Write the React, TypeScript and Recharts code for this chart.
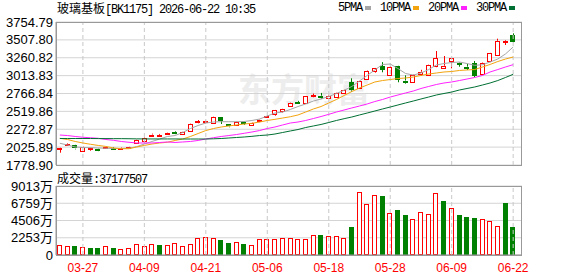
import {
  ComposedChart,
  BarChart,
  Bar,
  Line,
  XAxis,
  YAxis,
  CartesianGrid,
  ReferenceLine,
} from 'recharts';

const dates = ['03-24','03-25','03-26','03-27','03-30','03-31','04-01','04-02','04-03','04-07','04-08','04-09','04-10','04-13','04-14','04-15','04-16','04-17','04-20','04-21','04-22','04-23','04-24','04-27','04-28','04-29','04-30','05-06','05-07','05-08','05-11','05-12','05-13','05-14','05-15','05-18','05-19','05-20','05-21','05-22','05-25','05-26','05-27','05-28','05-29','06-01','06-02','06-03','06-04','06-05','06-08','06-09','06-10','06-11','06-12','06-15','06-16','06-17','06-18','06-22'];
const labelDates = ['03-27', '04-09', '04-21', '05-06', '05-18', '05-28', '06-09', '06-22'];

const open = [2004,2062,2051,1982,2006,2004,2025,2018,2008,2010,2079,2115,2190,2190,2203,2236,2217,2249,2366,2372,2369,2438,2341,2341,2369,2332,2377,2452,2483,2515,2598,2650,2632,2723,2737,2705,2718,2770,2922,2839,2977,3078,3147,3032,3147,2946,2930,3036,3022,3137,3129,3206,3192,3138,3184,3036,3206,3308,3468,3575];
const high = [2022,2080,2058,2036,2020,2008,2040,2028,2020,2030,2128,2158,2212,2208,2225,2245,2242,2350,2400,2392,2450,2442,2345,2383,2380,2368,2405,2468,2540,2555,2640,2665,2732,2765,2775,2738,2782,2818,2977,2940,3088,3120,3200,3147,3150,3018,3028,3094,3165,3354,3285,3258,3198,3175,3216,3198,3328,3524,3502,3598];
const low = [1949,2055,1995,1978,1976,1970,2020,1995,2000,2005,2072,2100,2185,2180,2195,2205,2212,2245,2355,2355,2365,2345,2300,2335,2335,2325,2370,2445,2460,2505,2590,2625,2625,2715,2695,2700,2712,2765,2792,2832,2970,3055,3060,3010,2922,2903,2925,3012,3015,3130,3115,3115,3137,3091,2991,3030,3200,3300,3437,3475];
const close = [2018,2072,2004,2032,2016,1976,2034,2010,2014,2023,2124,2152,2200,2196,2215,2228,2239,2341,2382,2387,2446,2387,2308,2377,2352,2363,2396,2460,2535,2549,2635,2642,2728,2742,2709,2732,2778,2815,2810,2935,3082,3115,3091,3137,2953,2932,3022,3068,3160,3253,3151,3253,3170,3129,3009,3192,3322,3495,3488,3483];

const ma5 = [2079,2055,2028,2021,2018,2014,2010,2007,2007,2010,2032,2069,2104,2138,2173,2186,2228,2283,2325,2359,2373,2377,2377,2377,2380,2394,2414,2456,2497,2511,2546,2587,2622,2663,2691,2725,2767,2811,2864,2939,3016,3092,3168,3174,3112,3043,3022,3050,3098,3161,3181,3195,3202,3181,3156,3164,3202,3243,3313,3409];
const ma10 = [2148,2131,2104,2083,2065,2049,2035,2014,2004,2004,2028,2049,2069,2083,2093,2118,2138,2173,2214,2255,2283,2304,2318,2332,2345,2355,2373,2394,2410,2428,2446,2470,2511,2553,2587,2636,2684,2739,2794,2843,2884,2926,2946,2960,2974,2981,2995,3016,3036,3050,3064,3071,3085,3092,3098,3133,3168,3209,3243,3271];
const ma20 = [2193,2186,2173,2162,2155,2148,2131,2120,2104,2093,2083,2083,2083,2090,2097,2090,2097,2104,2118,2138,2156,2173,2186,2200,2217,2235,2255,2283,2304,2332,2359,2373,2394,2421,2449,2479,2511,2539,2567,2594,2622,2656,2684,2718,2746,2774,2801,2836,2864,2891,2912,2926,2946,2967,2988,3016,3064,3098,3133,3165];
const ma30 = [2145,2145,2145,2145,2145,2144,2144,2143,2143,2142,2140,2139,2139,2139,2139,2139,2138,2138,2138,2138,2141,2145,2152,2159,2166,2175,2186,2193,2207,2228,2249,2269,2297,2318,2339,2366,2394,2419,2442,2470,2497,2525,2553,2580,2608,2636,2663,2691,2718,2746,2767,2787,2815,2836,2857,2884,2912,2946,2988,3032];

// 成交量, 单位: 万
const volume = [1306,1175,1175,1000,870,870,1130,870,740,870,1437,1130,1393,1306,1306,1524,1175,1437,2177,2307,2177,1959,1611,1698,1437,1263,2046,2046,2046,2177,2177,2046,2046,2569,2569,2438,2438,2177,3612,8270,6660,7790,7705,5440,5877,5224,4660,5660,5310,8055,7052,6095,5224,4920,4790,4660,4400,3745,6750,3717.7507];

const priceTicks = [1778.9, 2025.89, 2272.87, 2519.86, 2766.84, 3013.83, 3260.82, 3507.8, 3754.79];
const volTicks = [0, 2253, 4506, 6759, 9013];

const maSeries = [
  { key: 'ma5', name: '5PMA', color: '#a5a5a5' },
  { key: 'ma10', name: '10PMA', color: '#f2a40e' },
  { key: 'ma20', name: '20PMA', color: '#ff22ff' },
  { key: 'ma30', name: '30PMA', color: '#006f33' },
];

const RED = '#ff0000';
const GREEN = '#008000';
const GRID = '#d4d4d4';
const BORDER = '#999999';
const sans = '"Liberation Sans", "Noto Sans CJK SC", sans-serif';
const mono = '"Liberation Mono", "Noto Sans CJK SC", monospace';

const rows = dates.map((date, i) => ({
  date,
  open: open[i],
  high: high[i],
  low: low[i],
  close: close[i],
  ma5: ma5[i],
  ma10: ma10[i],
  ma20: ma20[i],
  ma30: ma30[i],
  vol: volume[i],
  // 东财的量柱颜色按收盘价与前一日收盘比较
  volUp: i === 0 ? close[i] >= open[i] : close[i] >= close[i - 1],
}));

function Candle(props: any) {
  const { x, y, width, height, payload } = props;
  if (height == null || !payload) return null;
  const h = Math.abs(height);
  const { open: o, close: c, high: hi, low: lo } = payload;
  const up = c >= o;
  const k = h / (hi - lo);
  const top = y + (hi - Math.max(o, c)) * k;
  const bot = y + (hi - Math.min(o, c)) * k;
  const cx = Math.round(x + width / 2) + 0.5;
  const bx = Math.round(x) + 0.5;
  const bw = Math.round(width) - 1;
  const color = up ? RED : GREEN;
  const bodyH = Math.max(bot - top, 1);
  return (
    <g>
      <line x1={cx} x2={cx} y1={y} y2={top} stroke={color} />
      <line x1={cx} x2={cx} y1={top + bodyH} y2={y + h} stroke={color} />
      {up ? (
        <rect x={bx} y={Math.round(top) + 0.5} width={bw} height={Math.max(Math.round(bodyH), 1)} fill="#fff" stroke={color} />
      ) : (
        <rect x={bx - 0.5} y={Math.round(top)} width={bw + 1} height={Math.max(Math.round(bodyH), 2)} fill={color} />
      )}
    </g>
  );
}

function VolBar(props: any) {
  const { x, y, width, height, payload } = props;
  if (!payload || height == null) return null;
  const bx = Math.round(x);
  const bw = Math.round(width);
  if (payload.volUp) {
    return <rect x={bx + 0.5} y={Math.round(y) + 0.5} width={bw - 1} height={Math.round(height) - 1} fill="#fff" stroke={RED} />;
  }
  return <rect x={bx} y={Math.round(y)} width={bw} height={Math.round(height)} fill={GREEN} />;
}

function DateTick(props: any) {
  const { x, y, payload } = props;
  if (!labelDates.includes(payload.value)) return null;
  return (
    <text x={x} y={y} dy={15} textAnchor="middle" fill={RED} fontSize={12} fontFamily={sans}>
      {payload.value}
    </text>
  );
}

export default function App() {
  const last = rows[rows.length - 1];
  return (
    <div style={{ position: 'absolute', left: 0, top: 0, width: 578, height: 276, background: '#fff', overflow: 'hidden' }}>
      {/* 水印 */}
      <div style={{ position: 'absolute', left: 238, top: 70, fontSize: 33, lineHeight: '36px', fontWeight: 700, color: '#ededed', fontFamily: '"Noto Sans CJK SC", sans-serif' }}>
        东方财富
      </div>

      <div style={{ position: 'absolute', left: 57, top: 1, fontSize: 12, lineHeight: '14px', color: '#000', whiteSpace: 'nowrap' }}>
        <span style={{ fontFamily: '"Noto Sans CJK SC", sans-serif' }}>玻璃基板</span>
        <span style={{ fontFamily: mono, letterSpacing: '-1.2px' }}>[BK1175] 2026-06-22 10:35</span>
      </div>

      <div style={{ position: 'absolute', left: 338, top: 1, display: 'flex', alignItems: 'center', fontSize: 12, lineHeight: '14px', fontFamily: mono, letterSpacing: '-1.2px', whiteSpace: 'nowrap' }}>
        {maSeries.map((m) => (
          <span key={m.key} style={{ display: 'flex', alignItems: 'center' }}>
            <span>{m.name}</span>
            <span style={{ display: 'inline-block', width: 6, height: 4, background: m.color, marginLeft: 3, marginRight: 9 }} />
          </span>
        ))}
      </div>

      <div style={{ position: 'absolute', left: 0, top: 0 }}>
        <ComposedChart width={578} height={176} data={rows} margin={{ top: 22, right: 56, bottom: 11, left: 0 }}>
          <CartesianGrid vertical={false} stroke={GRID} />
          <XAxis dataKey="date" hide padding={{ left: 0, right: 5 }} />
          <YAxis
            domain={[1778.9, 3754.79]}
            ticks={priceTicks}
            interval={0}
            allowDataOverflow
            width={56}
            tickLine={false}
            tickSize={0}
            tickMargin={3}
            axisLine={{ stroke: BORDER }}
            tick={{ fill: '#000', fontSize: 13, fontFamily: sans }}
            tickFormatter={(v: number) => v.toFixed(2)}
          />
          {labelDates.map((d) => (
            <ReferenceLine key={d} x={d} stroke="#c8c8c8" strokeDasharray="4 3" />
          ))}
          <Bar dataKey={(d: any) => [d.low, d.high]} barSize={5} shape={Candle} isAnimationActive={false} />
          {maSeries.map((m) => (
            <Line key={m.key} type="linear" dataKey={m.key} stroke={m.color} strokeWidth={1} dot={false} activeDot={false} isAnimationActive={false} />
          ))}
        </ComposedChart>
      </div>
      <div style={{ position: 'absolute', left: 56, top: 22, width: 466, height: 144, border: `1px solid ${BORDER}`, boxSizing: 'border-box', pointerEvents: 'none' }} />

      <div style={{ position: 'absolute', left: 57, top: 171, fontSize: 12, lineHeight: '14px', color: '#000', whiteSpace: 'nowrap' }}>
        <span style={{ fontFamily: '"Noto Sans CJK SC", sans-serif' }}>成交量</span>
        <span style={{ fontFamily: mono, letterSpacing: '-1.2px' }}>:{Math.round(last.vol * 10000)}</span>
      </div>

      <div style={{ position: 'absolute', left: 0, top: 176 }}>
        <BarChart width={578} height={100} data={rows} margin={{ top: 10, right: 56, bottom: 0, left: 0 }}>
          <CartesianGrid vertical={false} stroke={GRID} />
          <XAxis
            dataKey="date"
            height={21}
            interval={0}
            padding={{ left: 0, right: 5 }}
            tickLine={false}
            tickSize={0}
            axisLine={{ stroke: BORDER }}
            tick={<DateTick />}
          />
          <YAxis
            domain={[0, 9013]}
            ticks={volTicks}
            interval={0}
            allowDataOverflow
            width={56}
            tickLine={false}
            tickSize={0}
            tickMargin={3}
            axisLine={{ stroke: BORDER }}
            tick={{ fill: '#000', fontSize: 13, fontFamily: sans }}
            tickFormatter={(v: number) => (v === 0 ? '0' : `${v}万`)}
          />
          {labelDates.map((d) => (
            <ReferenceLine key={d} x={d} stroke="#c8c8c8" strokeDasharray="4 3" />
          ))}
          <Bar dataKey="vol" barSize={5} shape={VolBar} isAnimationActive={false} />
        </BarChart>
      </div>
      <div style={{ position: 'absolute', left: 56, top: 186, width: 466, height: 70, border: `1px solid ${BORDER}`, boxSizing: 'border-box', pointerEvents: 'none' }} />
    </div>
  );
}
